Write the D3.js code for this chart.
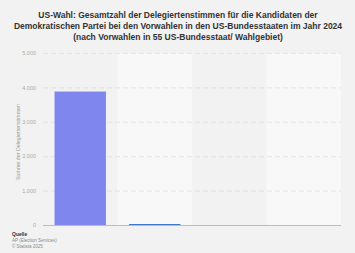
<!DOCTYPE html>
<html>
<head>
<meta charset="utf-8">
<script src="https://cdn.jsdelivr.net/npm/d3@7"></script>
<style>
  body { margin: 0; background: #f2f2f2; }
  svg { display: block; font-family: "Liberation Sans", Arial, sans-serif; }
</style>
</head>
<body>
<script>
// Daten
var candidates = ["Joe Biden", "Dean Phillips", "Marianne Williamson", "Uncommitted"];
var delegates = [3880, 25, 0, 0];
var barColors = ["#7f87ef", "#1e62c4", "#1e62c4", "#1e62c4"];
var yTicks = [0, 1000, 2000, 3000, 4000, 5000];

var titleLines = [
    "US-Wahl: Gesamtzahl der Delegiertenstimmen für die Kandidaten der",
    "Demokratischen Partei bei den Vorwahlen in den US-Bundesstaaten im Jahr 2024",
    "(nach Vorwahlen in 55 US-Bundesstaat/ Wahlgebiet)"
];
var sourceLines = ["Quelle", "AP (Election Services)", "© Statista 2025"];

var width = 355, height = 253;
var margin = { top: 53, right: 14, bottom: 28, left: 43 };

var svg = d3.select("body").append("svg")
    .attr("width", width)
    .attr("height", height);

svg.append("rect").attr("width", width).attr("height", height).attr("fill", "#f2f2f2");

// Titel
svg.append("g").selectAll("text")
    .data(titleLines)
    .enter().append("text")
    .attr("x", 178)
    .attr("y", function (d, i) { return 18 + i * 11; })
    .attr("text-anchor", "middle")
    .attr("font-size", 8.5)
    .attr("font-weight", "bold")
    .attr("fill", "#333")
    .text(function (d) { return d; });

var x = d3.scaleBand()
    .domain(candidates)
    .range([margin.left, width - margin.right])
    .paddingInner(0)
    .paddingOuter(0);

var y = d3.scaleLinear()
    .domain([0, 5000])
    .range([height - margin.bottom, margin.top]);

var g = svg.append("g");

// abwechselnde Spalten
g.selectAll(".band")
    .data(candidates)
    .enter().append("rect")
    .attr("class", "band")
    .attr("x", function (d) { return x(d); })
    .attr("y", margin.top)
    .attr("width", x.bandwidth())
    .attr("height", y(0) - margin.top)
    .attr("fill", function (d, i) { return i % 2 ? "#f8f8f8" : "#f2f2f2"; });

// Gitterlinien
var yAxis = d3.axisLeft(y)
    .tickValues(yTicks)
    .tickSize(-(width - margin.left - margin.right))
    .tickPadding(7)
    .tickFormat(function (d) { return d3.format(",")(d).replace(/,/g, "."); });

var ya = g.append("g")
    .attr("transform", "translate(" + margin.left + ",0)")
    .call(yAxis);
ya.select(".domain").remove();
ya.selectAll(".tick line")
    .attr("stroke", "#dcdcdc")
    .attr("stroke-width", 0.7)
    .attr("stroke-dasharray", "5,3");
ya.selectAll(".tick text")
    .attr("fill", "#aaa")
    .attr("font-size", 5.5)
    .attr("font-family", "Liberation Sans, Arial, sans-serif");
ya.selectAll(".tick").filter(function (d) { return d === 0; }).select("line").remove();

// Balken
var bw = x.bandwidth() * 0.69;
g.selectAll(".bar")
    .data(delegates)
    .enter().append("rect")
    .attr("class", "bar")
    .attr("x", function (d, i) { return x(candidates[i]) + (x.bandwidth() - bw) / 2; })
    .attr("y", function (d) { return y(d); })
    .attr("width", bw)
    .attr("height", function (d) { return y(0) - y(d); })
    .attr("fill", function (d, i) { return barColors[i]; });

// Grundlinie
g.append("line")
    .attr("x1", margin.left)
    .attr("x2", width - margin.right)
    .attr("y1", y(0) + 0.5)
    .attr("y2", y(0) + 0.5)
    .attr("stroke", "#bbb")
    .attr("stroke-width", 1);

// Achsentitel
svg.append("text")
    .attr("transform", "translate(20," + ((margin.top + y(0)) / 2 + 3) + ") rotate(-90)")
    .attr("text-anchor", "middle")
    .attr("font-size", 5.3)
    .attr("fill", "#999")
    .text("Summe der Delegiertenstimmen");

// Quelle
svg.append("g").selectAll("text")
    .data(sourceLines)
    .enter().append("text")
    .attr("x", 12)
    .attr("y", function (d, i) { return 236 + i * 6; })
    .attr("font-size", function (d, i) { return i === 0 ? 5 : 4.5; })
    .attr("font-weight", function (d, i) { return i === 0 ? "bold" : "normal"; })
    .attr("fill", function (d, i) { return i === 0 ? "#333" : "#888"; })
    .text(function (d) { return d; });
</script>
</body>
</html>
